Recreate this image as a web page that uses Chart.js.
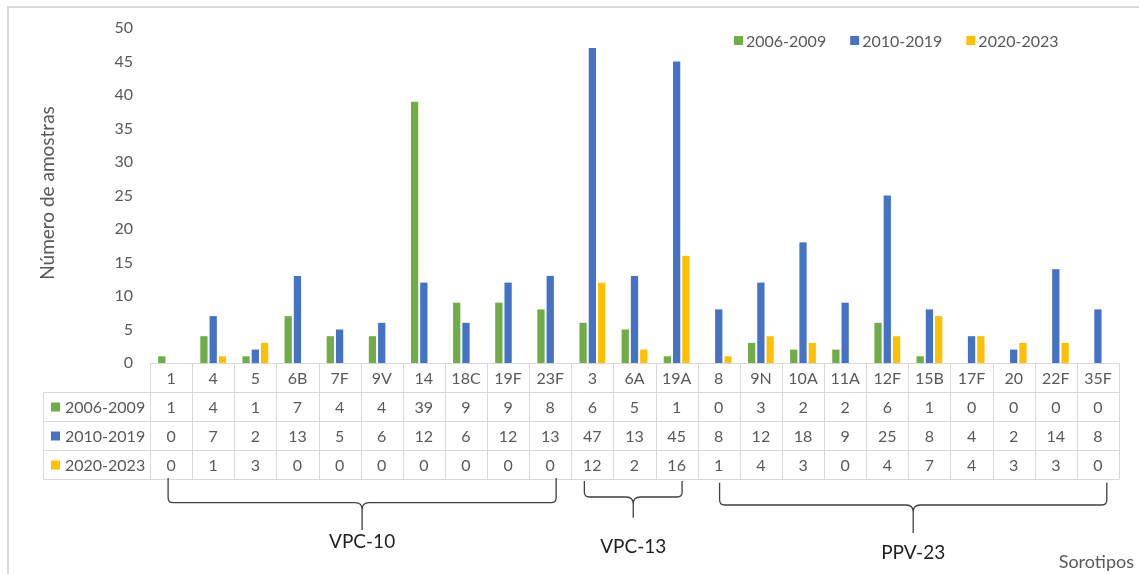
<!DOCTYPE html>
<html lang="pt">
<head>
<meta charset="utf-8">
<title>Sorotipos por período</title>
<script src="https://cdn.jsdelivr.net/npm/chart.js@4.4.1/dist/chart.umd.min.js"></script>
<style>
  html, body { margin: 0; padding: 0; background: #ffffff; }
  #wrap { position: relative; width: 1139px; height: 574px; }
  canvas { display: block; }
</style>
</head>
<body>
<div id="wrap"><canvas id="chart" width="1139" height="574"></canvas></div>
<script>
// Serotypes (x categories)
const sorotipos = ['1', '4', '5', '6B', '7F', '9V', '14', '18C', '19F', '23F',
                   '3', '6A', '19A',
                   '8', '9N', '10A', '11A', '12F', '15B', '17F', '20', '22F', '35F'];

// Sample counts per period
const periodos = ['2006-2009', '2010-2019', '2020-2023'];
const p2006_2009 = [1, 4, 1, 7, 4, 4, 39, 9, 9, 8, 6, 5, 1, 0, 3, 2, 2, 6, 1, 0, 0, 0, 0];
const p2010_2019 = [0, 7, 2, 13, 5, 6, 12, 6, 12, 13, 47, 13, 45, 8, 12, 18, 9, 25, 8, 4, 2, 14, 8];
const p2020_2023 = [0, 1, 3, 0, 0, 0, 0, 0, 0, 0, 12, 2, 16, 1, 4, 3, 0, 4, 7, 4, 3, 3, 0];

// Y axis ticks
const yTicks = [0, 5, 10, 15, 20, 25, 30, 35, 40, 45, 50];

// Vaccine groups: label and first/last serotype of each group
const grupos = [
  { nome: 'VPC-10', de: '1', ate: '23F' },
  { nome: 'VPC-13', de: '3', ate: '19A' },
  { nome: 'PPV-23', de: '8', ate: '35F' }
];

const cores = ['#70AD47', '#4472C4', '#FFC000'];
const FONT = 'Lato, "Open Sans", sans-serif';
const GRAY = '#595959';
const GRID = '#d9d9d9';

// Drawing geometry of the brace under each group (fractions of a column, pixel heights)
const braceStyle = [
  { a: 0.43, b: 9.64, top: 478, mid: 502.7, tip: 530, ly: 542 },
  { a: 10.31, b: 12.63, top: 481, mid: 497, tip: 517.7, ly: 547 },
  { a: 13.52, b: 22.71, top: 482.7, mid: 505, tip: 533, ly: 553 }
];

const ROW_H = 29;

function brace(ctx, x0, x1, yTop, yMid, yTip) {
  const r = 5, rc = 7;
  const xc = (x0 + x1) / 2;
  ctx.beginPath();
  ctx.moveTo(x0, yTop);
  ctx.lineTo(x0, yMid - r);
  ctx.quadraticCurveTo(x0, yMid, x0 + r, yMid);
  ctx.lineTo(xc - rc, yMid);
  ctx.quadraticCurveTo(xc, yMid, xc, yMid + rc);
  ctx.lineTo(xc, yTip);
  ctx.moveTo(x1, yTop);
  ctx.lineTo(x1, yMid - r);
  ctx.quadraticCurveTo(x1, yMid, x1 - r, yMid);
  ctx.lineTo(xc + rc, yMid);
  ctx.quadraticCurveTo(xc, yMid, xc, yMid + rc);
  ctx.stroke();
}

const extras = {
  id: 'extras',
  afterDraw(chart) {
    const ctx = chart.ctx;
    const area = chart.chartArea;
    const xs = chart.scales.x;
    const n = sorotipos.length;
    const colW = (area.right - area.left) / n;
    const top = Math.round(area.bottom) + 0.5;
    const tableLeft = 43.5;
    const rows = [top, top + ROW_H, top + 2 * ROW_H, top + 3 * ROW_H, top + 4 * ROW_H];
    const series = chart.data.datasets;

    ctx.save();

    // Outer frame
    ctx.strokeStyle = GRID;
    ctx.lineWidth = 2;
    ctx.beginPath();
    ctx.moveTo(8, 600);
    ctx.lineTo(8, 7);
    ctx.lineTo(1150, 7);
    ctx.stroke();

    // Data table grid
    ctx.lineWidth = 1;
    ctx.strokeStyle = GRID;
    ctx.beginPath();
    ctx.moveTo(area.left, rows[0]);
    ctx.lineTo(area.right, rows[0]);
    for (let k = 1; k < rows.length; k++) {
      ctx.moveTo(tableLeft, rows[k]);
      ctx.lineTo(area.right, rows[k]);
    }
    ctx.moveTo(tableLeft, rows[1]);
    ctx.lineTo(tableLeft, rows[4]);
    for (let i = 0; i <= n; i++) {
      const x = Math.round(area.left + i * colW) + 0.5;
      ctx.moveTo(x, rows[0]);
      ctx.lineTo(x, rows[4]);
    }
    ctx.stroke();

    // Header row (serotypes) and values
    ctx.fillStyle = GRAY;
    ctx.font = '16px ' + FONT;
    ctx.textAlign = 'center';
    ctx.textBaseline = 'middle';
    for (let i = 0; i < n; i++) {
      const cx = xs.getPixelForValue(i);
      ctx.fillText(chart.data.labels[i], cx, rows[0] + ROW_H / 2 + 1);
      series.forEach((ds, s) => {
        ctx.fillText(String(ds.data[i]), cx, rows[s + 1] + ROW_H / 2 + 1);
      });
    }

    // Series keys in the table
    ctx.textAlign = 'left';
    series.forEach((ds, s) => {
      const cy = rows[s + 1] + ROW_H / 2;
      ctx.fillStyle = ds.backgroundColor;
      ctx.fillRect(51, cy - 4.5, 9, 9);
      ctx.fillStyle = GRAY;
      ctx.fillText(ds.label, 65, cy + 1);
    });

    // Legend at top right
    let lx = 734;
    const ly = 40.5;
    series.forEach((ds) => {
      ctx.fillStyle = ds.backgroundColor;
      ctx.fillRect(lx, ly - 4.5, 9, 9);
      ctx.fillStyle = GRAY;
      ctx.fillText(ds.label, lx + 12, ly + 1);
      lx += 12 + ctx.measureText(ds.label).width + 24;
    });

    // Axis titles
    ctx.save();
    ctx.translate(48, 193);
    ctx.rotate(-Math.PI / 2);
    ctx.textAlign = 'center';
    ctx.font = '19px ' + FONT;
    ctx.fillText('Número de amostras', 0, 0);
    ctx.restore();

    ctx.textAlign = 'right';
    ctx.font = '18px ' + FONT;
    ctx.fillText('Sorotipos', 1134, 562);

    // Group braces and labels
    ctx.strokeStyle = '#404040';
    ctx.lineWidth = 1.3;
    grupos.forEach((g, k) => {
      const st = braceStyle[k];
      const x0 = area.left + st.a * colW;
      const x1 = area.left + st.b * colW;
      brace(ctx, x0, x1, st.top, st.mid, st.tip);
      ctx.fillStyle = '#1f1f1f';
      ctx.font = '19px ' + FONT;
      ctx.textAlign = 'center';
      ctx.fillText(g.nome, (x0 + x1) / 2, st.ly);
    });

    ctx.restore();
  }
};

const serie = [p2006_2009, p2010_2019, p2020_2023];

new Chart(document.getElementById('chart'), {
  type: 'bar',
  data: {
    labels: sorotipos,
    datasets: periodos.map((p, i) => ({
      label: p,
      data: serie[i],
      backgroundColor: cores[i],
      borderWidth: 0,
      categoryPercentage: 0.66,
      barPercentage: 0.785
    }))
  },
  options: {
    responsive: false,
    animation: false,
    layout: { padding: { top: 28, right: 20, bottom: 211, left: 0 } },
    plugins: { legend: { display: false }, tooltip: { enabled: false } },
    scales: {
      x: { display: false },
      y: {
        min: 0,
        max: 50,
        afterFit(scale) { scale.width = 150; },
        afterBuildTicks(scale) { scale.ticks = yTicks.map(v => ({ value: v })); },
        grid: { display: false, drawTicks: false },
        border: { display: false },
        ticks: { color: GRAY, font: { family: FONT, size: 16 }, padding: 17 }
      }
    }
  },
  plugins: [extras]
});
</script>
</body>
</html>
